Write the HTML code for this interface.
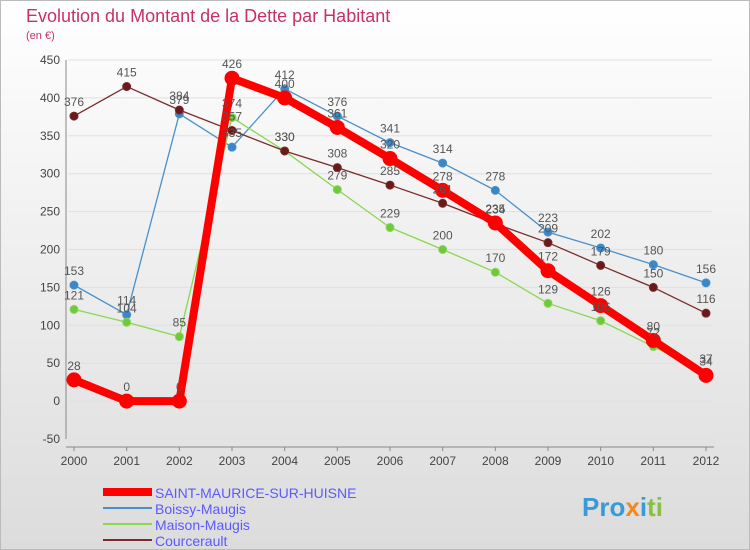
<!DOCTYPE html>
<html><head><meta charset="utf-8"><style>
body{margin:0;width:750px;height:550px;overflow:hidden;font-family:"Liberation Sans",sans-serif}
svg{display:block}
</style></head><body>
<svg id="c" width="750" height="550" xmlns="http://www.w3.org/2000/svg">
<defs><linearGradient id="bg" x1="0" y1="0" x2="0" y2="1"><stop offset="0" stop-color="#ffffff"/><stop offset="1" stop-color="#dcdcdc"/></linearGradient></defs>
<rect x="0" y="0" width="750" height="550" fill="url(#bg)"/>
<rect x="0.5" y="0.5" width="749" height="549" fill="none" stroke="#bbb"/>
<text x="26" y="22" font-size="18" fill="#c8306a">Evolution du Montant de la Dette par Habitant</text>
<text x="26" y="39" font-size="11" fill="#c8306a">(en €)</text>
<g id="grid"></g><g id="series"></g><g id="labels"></g>
<g>
<line x1="103" y1="492" x2="152" y2="492" stroke="#ff0000" stroke-width="8"/>
<text x="155" y="498" font-size="14" fill="#5a5aff">SAINT-MAURICE-SUR-HUISNE</text>
<line x1="103" y1="508" x2="152" y2="508" stroke="#4a90c8" stroke-width="2"/>
<text x="155" y="514" font-size="14" fill="#5a5aff">Boissy-Maugis</text>
<line x1="103" y1="524" x2="152" y2="524" stroke="#88d850" stroke-width="2"/>
<text x="155" y="530" font-size="14" fill="#5a5aff">Maison-Maugis</text>
<line x1="103" y1="540" x2="152" y2="540" stroke="#7a2a2a" stroke-width="2"/>
<text x="155" y="546" font-size="14" fill="#5a5aff">Courcerault</text>
</g>
<text x="582" y="516" font-size="26" font-weight="bold" fill="#3a9ad8">Pro<tspan fill="#f08a20">x</tspan>i<tspan fill="#88c040">ti</tspan></text>
</svg>
<script>
const years=[2000,2001,2002,2003,2004,2005,2006,2007,2008,2009,2010,2011,2012];
const yTicks=[-50,0,50,100,150,200,250,300,350,400,450];
const saintMaurice=[28,0,0,426,400,361,320,278,235,172,126,80,34];
const boissy=[153,114,379,335,412,376,341,314,278,223,202,180,156];
const maison=[121,104,85,374,330,279,229,200,170,129,106,72,37];
const courcerault=[376,415,384,357,330,308,285,261,234,209,179,150,116];
const NS="http://www.w3.org/2000/svg";
const x0=74,x1=706,yTop=60,yBot=439;
function xs(i){return x0+(x1-x0)*i/(years.length-1);}
function ys(v){return yBot-(v+50)/500*(yBot-yTop);}
function mk(tag,attrs,parent){const e=document.createElementNS(NS,tag);for(const k in attrs)e.setAttribute(k,attrs[k]);parent.appendChild(e);return e;}
const grid=document.getElementById('grid'),ser=document.getElementById('series'),lab=document.getElementById('labels');
yTicks.forEach(t=>{
 const l=mk('line',{x1:x0-6,x2:x1+6,y1:ys(t),y2:ys(t),stroke:'#e0e0e0','stroke-width':1},grid);
 
 
 const tx=mk('text',{x:x0-14,y:ys(t)+4,'font-size':12,fill:'#444','text-anchor':'end'},grid);
 tx.textContent=t;
 
 
});
const ax=mk('line',{x1:x0-8,x2:x0-8,y1:yTop,y2:yBot,stroke:'#888'},grid);


const bx=mk('line',{x1:x0-8,x2:x1+8,y1:yBot+8,y2:yBot+8,stroke:'#888'},grid);


years.forEach((y,i)=>{
 const tk=mk('line',{x1:xs(i),x2:xs(i),y1:yBot+8,y2:yBot+12,stroke:'#888'},grid);
 
 
 const tx=mk('text',{x:xs(i),y:yBot+26,'font-size':12,fill:'#444','text-anchor':'middle'},grid);
 tx.textContent=y;
 
 
});
function draw(data,color,w,r,name,dot){
 const pts=data.map((v,i)=>xs(i)+','+ys(v)).join(' ');
 const pl=mk('polyline',{points:pts,fill:'none',stroke:color,'stroke-width':w,'stroke-linejoin':'round'},ser);
 
 
 data.forEach((v,i)=>{
  const c=mk('circle',{cx:xs(i),cy:ys(v),r:r,fill:dot,stroke:color,'stroke-width':1},ser);
  
  
  const t=mk('text',{x:xs(i),y:ys(v)-10,'font-size':12,fill:'#555','text-anchor':'middle'},lab);
  t.textContent=v;
  
  
 });
}
draw(boissy,'#4a90c8',1.3,4,'boissy','#3a88c8');
draw(maison,'#88d850',1.3,4,'maison','#70c840');
draw(courcerault,'#7a2a2a',1.3,4,'courcerault','#6a1a1a');
draw(saintMaurice,'#ff0000',8,7,'saint-maurice','#ff0000');
</script>
</body></html>
